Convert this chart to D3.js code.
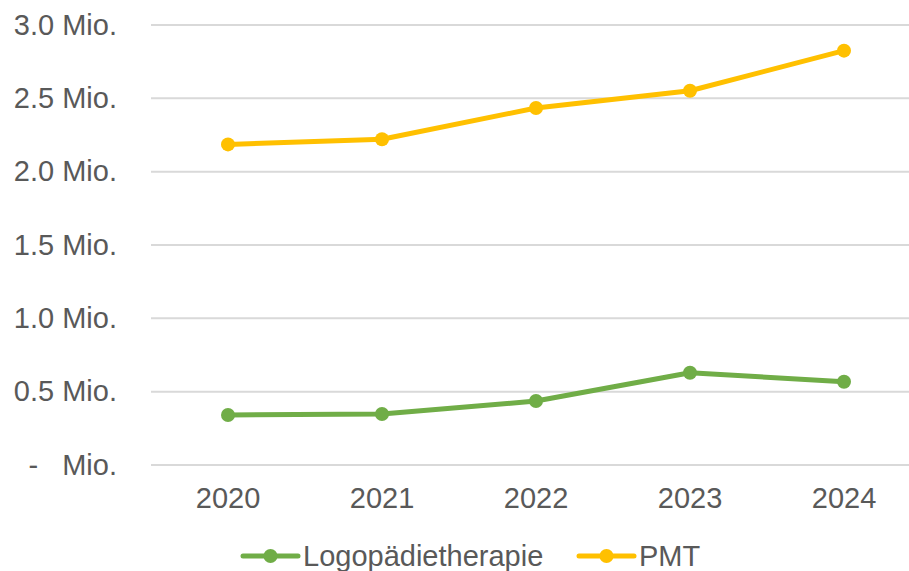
<!DOCTYPE html>
<html><head><meta charset="utf-8">
<script src="https://cdn.jsdelivr.net/npm/d3@7"></script>
<style>
html,body{margin:0;padding:0;background:#fff;}
svg text{font-family:"Liberation Sans",Arial,sans-serif;fill:#595959;white-space:pre;}
</style></head>
<body><svg id="c" width="909" height="571"></svg>
<script>
const years = ["2020","2021","2022","2023","2024"];
const logopaedie = [0.341, 0.348, 0.436, 0.629, 0.568];
const pmt = [2.186, 2.221, 2.434, 2.552, 2.825];
const yTicks = [0, 0.5, 1.0, 1.5, 2.0, 2.5, 3.0];
const seriesNames = ["Logopädietherapie", "PMT"];
const seriesColors = ["#70ad47", "#ffc000"];

const FS = 29;
const svg = d3.select("#c");
const x = d3.scaleBand().domain(years).range([151, 921]);
const y = d3.scaleLinear().domain([0, 3]).range([465, 25]);

// gridlines
svg.append("g").selectAll("line").data(yTicks).join("line")
  .attr("x1", 151).attr("x2", 921)
  .attr("y1", d => y(d)).attr("y2", d => y(d))
  .attr("stroke", "#d9d9d9").attr("stroke-width", 2);

// y labels
const yAxis = d3.axisLeft(y).tickValues(yTicks)
  .tickFormat(d => d === 0 ? "-   Mio." : d3.format(".1f")(d) + " Mio.")
  .tickSize(0).tickPadding(0);
const gy = svg.append("g").attr("transform", "translate(117,0)").call(yAxis);
gy.select(".domain").remove();
gy.selectAll("text").attr("font-size", FS).attr("fill", "#595959")
  .style("font-family", '"Liberation Sans",Arial,sans-serif');

// x labels
const xAxis = d3.axisBottom(x).tickSize(0).tickPadding(0);
const gx = svg.append("g").attr("transform", "translate(0,488)").call(xAxis);
gx.select(".domain").remove();
gx.selectAll("text").attr("font-size", FS).attr("fill", "#595959").attr("dy", "0.7em")
  .style("font-family", '"Liberation Sans",Arial,sans-serif');

const cx = d => x(d) + x.bandwidth() / 2;
const line = d3.line().x(d => cx(d.year)).y(d => y(d.v));
const series = [logopaedie, pmt].map((vals, i) => ({
  name: seriesNames[i], color: seriesColors[i],
  pts: years.map((yr, j) => ({year: yr, v: vals[j]}))
}));

series.forEach(s => {
  svg.append("path").datum(s.pts).attr("d", line)
    .attr("fill", "none").attr("stroke", s.color).attr("stroke-width", 5)
    .attr("stroke-linejoin", "round");
  svg.append("g").selectAll("circle").data(s.pts).join("circle")
    .attr("cx", d => cx(d.year)).attr("cy", d => y(d.v)).attr("r", 7)
    .attr("fill", s.color);
});

// legend
const legendX = [243, 579];
series.forEach((s, i) => {
  const g = svg.append("g").attr("transform", `translate(${legendX[i]},556)`);
  g.append("line").attr("x1", 0).attr("x2", 55).attr("y1", 0).attr("y2", 0)
    .attr("stroke", s.color).attr("stroke-width", 5).attr("stroke-linecap", "round");
  g.append("circle").attr("cx", 27.5).attr("cy", 0).attr("r", 7).attr("fill", s.color);
  g.append("text").attr("x", 60).attr("y", 0).attr("dy", "0.36em")
    .attr("font-size", FS).text(s.name);
});
</script></body></html>
